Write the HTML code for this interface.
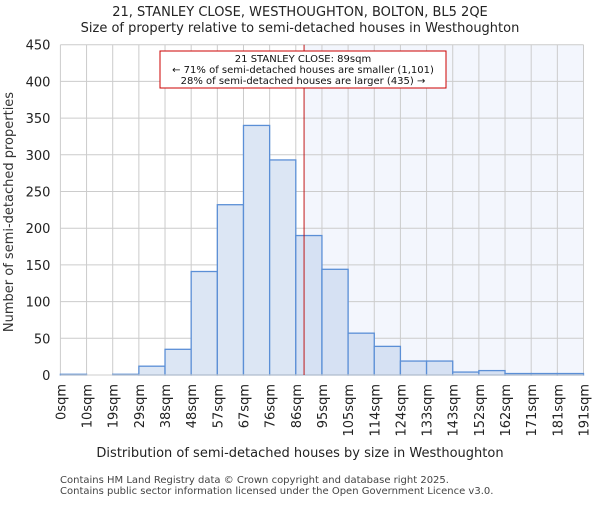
<!DOCTYPE html>
<html><head><meta charset="utf-8"><style>
body{margin:0;background:#fff;}
svg{font-family:"DejaVu Sans","Liberation Sans",sans-serif;}
</style></head><body>
<svg id="chart" width="600" height="500" xmlns="http://www.w3.org/2000/svg">
<text x="300" y="16" text-anchor="middle" font-size="13" fill="#222">21, STANLEY CLOSE, WESTHOUGHTON, BOLTON, BL5 2QE</text>
<text x="300" y="32" text-anchor="middle" font-size="13" fill="#222">Size of property relative to semi-detached houses in Westhoughton</text>
<g id="plot"></g>
<text x="300" y="457" text-anchor="middle" font-size="13" fill="#222">Distribution of semi-detached houses by size in Westhoughton</text>
<text transform="translate(13,212) rotate(-90)" text-anchor="middle" font-size="13" fill="#333">Number of semi-detached properties</text>
<text x="60" y="483" font-size="10" fill="#444">Contains HM Land Registry data © Crown copyright and database right 2025.</text>
<text x="60" y="494" font-size="10" fill="#444">Contains public sector information licensed under the Open Government Licence v3.0.</text>
</svg>
<script>
const binLabels=["0sqm","10sqm","19sqm","29sqm","38sqm","48sqm","57sqm","67sqm","76sqm","86sqm","95sqm","105sqm","114sqm","124sqm","133sqm","143sqm","152sqm","162sqm","171sqm","181sqm","191sqm"];
const counts=[1,0,1,12,35,141,232,340,293,190,144,57,39,19,19,4,6,2,2,2];
const yTicks=[0,50,100,150,200,250,300,350,400,450];
const markerBin=9+3/9.5;
const annotationLines=["21 STANLEY CLOSE: 89sqm","← 71% of semi-detached houses are smaller (1,101)","28% of semi-detached houses are larger (435) →"];
const NS="http://www.w3.org/2000/svg";
const L=60.4,R=583.5,T=44.7,B=375,yMax=450;
const n=counts.length,bw=(R-L)/n;
const xs=i=>L+i*bw;
const ys=v=>B-(v/yMax)*(B-T);
const g=document.getElementById('plot');
function mk(tag,a){const e=document.createElementNS(NS,tag);for(const k in a)e.setAttribute(k,a[k]);g.appendChild(e);return e;}
const mx=xs(markerBin);
let e=mk('rect',{x:mx,y:T,width:R-mx,height:B-T,fill:'#f3f6fd'});


yTicks.forEach(t=>{
 let l=mk('line',{x1:L,x2:R,y1:ys(t),y2:ys(t),stroke:'#ccc','stroke-width':1});
 
 
 let tx=mk('text',{x:L-10,y:ys(t)+5,'text-anchor':'end','font-size':13,fill:'#222'});
 tx.textContent=t;
 
 
});
binLabels.forEach((lab,i)=>{
 let l=mk('line',{x1:xs(i),x2:xs(i),y1:T,y2:B,stroke:'#ccc','stroke-width':1});
 
 
 let tx=mk('text',{transform:`translate(${xs(i)+5},384) rotate(-90)`,'text-anchor':'end','font-size':13,fill:'#222'});
 tx.textContent=lab;
 
 
});
counts.forEach((c,i)=>{
 if(c<=0)return;
 let r=mk('rect',{x:xs(i),y:ys(c),width:bw,height:B-ys(c),fill:i>=9?'#d6e1f3':'#dce6f4',stroke:'#5b8fd6','stroke-width':1.3});
 
 
});
let ax=mk('line',{x1:L,x2:R,y1:B,y2:B,stroke:'#ccc','stroke-width':1});


let ml=mk('line',{x1:mx,x2:mx,y1:T,y2:B,stroke:'#b00','stroke-width':0.9});


let box=mk('rect',{x:160,y:51,width:286,height:37,fill:'#fff',stroke:'#c00','stroke-width':1});


annotationLines.forEach((s,i)=>{
 let t=mk('text',{x:303,y:62+i*11,'text-anchor':'middle','font-size':10,fill:'#111'});
 t.textContent=s;
 
 
});
</script>
</body></html>
